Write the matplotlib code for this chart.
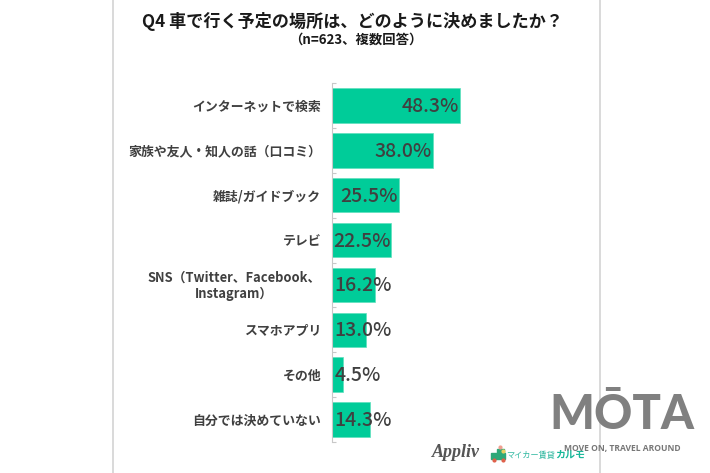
import matplotlib
matplotlib.use("Agg")
import matplotlib.pyplot as plt
from matplotlib.lines import Line2D
from matplotlib.patches import Rectangle, Circle

plt.rcParams['font.family'] = ['Noto Sans CJK JP', 'DejaVu Sans']

categories = ["インターネットで検索", "家族や友人・知人の話（口コミ）", "雑誌/ガイドブック", "テレビ",
              "SNS（Twitter、Facebook、\nInstagram）", "スマホアプリ", "その他", "自分では決めていない"]
values = [48.3, 38.0, 25.5, 22.5, 16.2, 13.0, 4.5, 14.3]
title = "Q4 車で行く予定の場所は、どのように決めましたか？"
subtitle = "（n=623、複数回答）"

W, H = 710, 473
fig = plt.figure(figsize=(W/100, H/100), dpi=100)
fx = lambda p: p / W
fy = lambda p: 1 - p / H

for px in (113, 600):
    fig.add_artist(Line2D([fx(px), fx(px)], [0, 1], color="#d0d0d0", lw=1.1))

ax = fig.add_axes([fx(331.5), fy(442), (597.5 - 331.5) / W, (442 - 83) / H])
pos = list(range(len(categories)))
ax.barh(pos, values, height=0.77, color="#00cc99", edgecolor="#5fe0bd", linewidth=0.5)
ax.set_xlim(0, 100)
ax.set_ylim(len(categories) - 0.5, -0.5)
ax.set_xticks([])
ax.set_yticks([p - 0.5 for p in pos] + [len(categories) - 0.5])
ax.set_yticklabels([])
ax.tick_params(axis="y", direction="in", length=3, width=0.8, color="#c8c8c8")
for s in ("top", "right", "bottom"):
    ax.spines[s].set_visible(False)
ax.spines["left"].set_color("#c8c8c8")
ax.spines["left"].set_linewidth(0.8)

for p, cat, v in zip(pos, categories, values):
    ax.annotate(cat, (0, p), xytext=(-7.5, -0.7), textcoords="offset points", ha="right", va="center",
                ma="center", fontsize=9.3, fontweight="bold", color="#404040", linespacing=1.2)
    if v > 20:
        ax.annotate(f"{v:.1f}%", (v, p), xytext=(-0.8, -0.7), textcoords="offset points",
                    ha="right", va="center", fontsize=14, fontweight="medium", color="#404040")
    else:
        ax.annotate(f"{v:.1f}%", (0, p), xytext=(2.2, -0.7), textcoords="offset points",
                    ha="left", va="center", fontsize=14, fontweight="medium", color="#404040")

fig.text(fx(353), fy(21), title, ha="center", va="center", fontsize=12.3, fontweight="bold", color="#1a1a1a")
fig.text(fx(355.5), fy(40), subtitle, ha="center", va="center", fontsize=9.6, fontweight="bold", color="#1a1a1a")

# logos
fig.text(fx(622), fy(415), "MŌTA", ha="center", va="center", fontsize=34, fontweight="black",
         color="#808080", family=["Lato", "DejaVu Sans"])
fig.text(fx(622), fy(448), "MOVE ON, TRAVEL AROUND", ha="center", va="center", fontsize=6.1,
         fontweight="bold", color="#777777", family=["Open Sans"])
fig.text(fx(456), fy(452), "Appliv", ha="center", va="center", fontsize=13, style="italic", fontweight="bold",
         color="#555555", family=["Liberation Serif"])
fig.text(fx(531), fy(455), "マイカー賃貸", ha="center", va="center", fontsize=5.9, color="#2fb8a0")
fig.text(fx(570.5), fy(454.5), "カルモ", ha="center", va="center", fontsize=7.2, fontweight="bold", color="#19b89a")

# small car-and-flowers icon
fig.add_artist(Rectangle((fx(491), fy(459)), 14 / W, 6 / H, color="#2fa878", transform=fig.transFigure))
fig.add_artist(Rectangle((fx(497), fy(455)), 7 / W, 6 / H, color="#2fa878", transform=fig.transFigure))
for cx, cy, col in ((494, 460, "#e0604a"), (503, 460, "#e0604a"), (500, 447, "#f0a090"), (503, 451, "#e8d060")):
    fig.add_artist(Line2D([fx(cx)], [fy(cy)], marker="o", ms=2, color=col, lw=0))

fig.savefig("out.png", dpi=100)
